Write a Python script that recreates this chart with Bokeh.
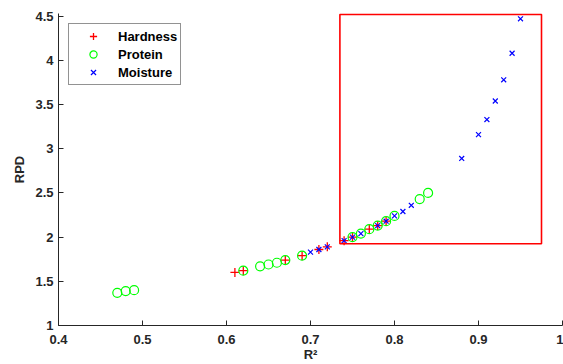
from bokeh.plotting import figure
from bokeh.models import Range1d, FixedTicker, CustomJSTickFormatter, BoxAnnotation, Legend, LegendItem
from bokeh.embed import file_html
from bokeh.resources import INLINE

# ---- data ----
hard_r2 = [0.61, 0.62, 0.67, 0.69, 0.71, 0.72, 0.74, 0.75, 0.77, 0.78, 0.79]
hard_rpd = [1.60, 1.62, 1.74, 1.79, 1.86, 1.89, 1.96, 2.00, 2.09, 2.13, 2.18]

prot_r2 = [0.47, 0.48, 0.49, 0.62, 0.64, 0.65, 0.66, 0.67, 0.69, 0.75, 0.76, 0.77,
           0.78, 0.79, 0.80, 0.83, 0.84]
prot_rpd = [1.37, 1.39, 1.40, 1.62, 1.67, 1.69, 1.71, 1.74, 1.79, 2.00, 2.04, 2.09,
            2.13, 2.18, 2.24, 2.43, 2.50]

moist_r2 = [0.70, 0.71, 0.72, 0.74, 0.75, 0.76, 0.78, 0.79, 0.80, 0.81, 0.82, 0.88,
            0.90, 0.91, 0.92, 0.93, 0.94, 0.95]
moist_rpd = [1.83, 1.86, 1.89, 1.96, 2.00, 2.04, 2.13, 2.18, 2.24, 2.29, 2.36, 2.89,
             3.16, 3.33, 3.54, 3.78, 4.08, 4.47]

series_names = ["Hardness", "Protein", "Moisture"]

x_ticks = [0.4, 0.5, 0.6, 0.7, 0.8, 0.9, 1.0]
y_ticks = [1.0, 1.5, 2.0, 2.5, 3.0, 3.5, 4.0, 4.5]

# highlighted region (red rectangle)
box_x = [0.735, 0.975]
box_y = [1.925, 4.52]

FONT = "Liberation Sans"
AX = "#262626"

p = figure(width=563, height=364, output_backend="svg", toolbar_location=None,
           x_range=Range1d(0.4, 1.0), y_range=Range1d(1.0, 4.53),
           min_border_left=58, min_border_right=1, min_border_top=13, min_border_bottom=38)
p.outline_line_color = None
p.xgrid.visible = False
p.ygrid.visible = False
p.background_fill_color = "white"
p.border_fill_color = "white"

fmt = CustomJSTickFormatter(code="return String(Math.round(tick*10)/10)")
for ax, ticks in ((p.xaxis[0], x_ticks), (p.yaxis[0], y_ticks)):
    ax.ticker = FixedTicker(ticks=ticks)
    ax.formatter = fmt
    ax.minor_tick_line_color = None
    ax.major_tick_in = 5
    ax.major_tick_out = 0
    ax.axis_line_color = AX
    ax.major_tick_line_color = AX
    ax.major_label_text_color = AX
    ax.major_label_text_font = FONT
    ax.major_label_text_font_style = "bold"
    ax.major_label_text_font_size = "13px"
    ax.axis_label_text_font = FONT
    ax.axis_label_text_font_style = "bold"
    ax.axis_label_text_font_size = "13px"
    ax.axis_label_text_color = AX

p.xaxis.axis_label = "R²"
p.yaxis.axis_label = "RPD"
p.xaxis.major_label_standoff = 9
p.xaxis.axis_label_standoff = 0
p.yaxis.major_label_standoff = 5
p.yaxis.axis_label_standoff = 5

r_h = p.scatter(hard_r2, hard_rpd, marker="cross", size=9, line_color="#ff0000", line_width=1.3)
r_p = p.scatter(prot_r2, prot_rpd, marker="circle", size=9, line_color="#00ff00",
                fill_color=None, line_width=1.2)
r_m = p.scatter(moist_r2, moist_rpd, marker="x", size=7, line_color="#0000ff", line_width=1.2)

box = BoxAnnotation(left=box_x[0], right=box_x[1], bottom=box_y[0], top=box_y[1],
                    fill_color=None, fill_alpha=0, line_color="#ff0000", line_alpha=1,
                    line_width=1.6)
p.add_layout(box)

legend = Legend(items=[LegendItem(label=n, renderers=[r]) for n, r in
                       zip(series_names, [r_h, r_p, r_m])],
                location="top_left", margin=10, padding=3, spacing=0,
                glyph_width=42, glyph_height=18, label_height=18, label_standoff=4,
                label_text_font=FONT, label_text_font_style="bold",
                label_text_font_size="13px", label_text_color="black",
                border_line_color=AX, border_line_width=1.5,
                background_fill_color="white", background_fill_alpha=1)
p.add_layout(legend)

open("out.html", "w").write(file_html(p, INLINE))
